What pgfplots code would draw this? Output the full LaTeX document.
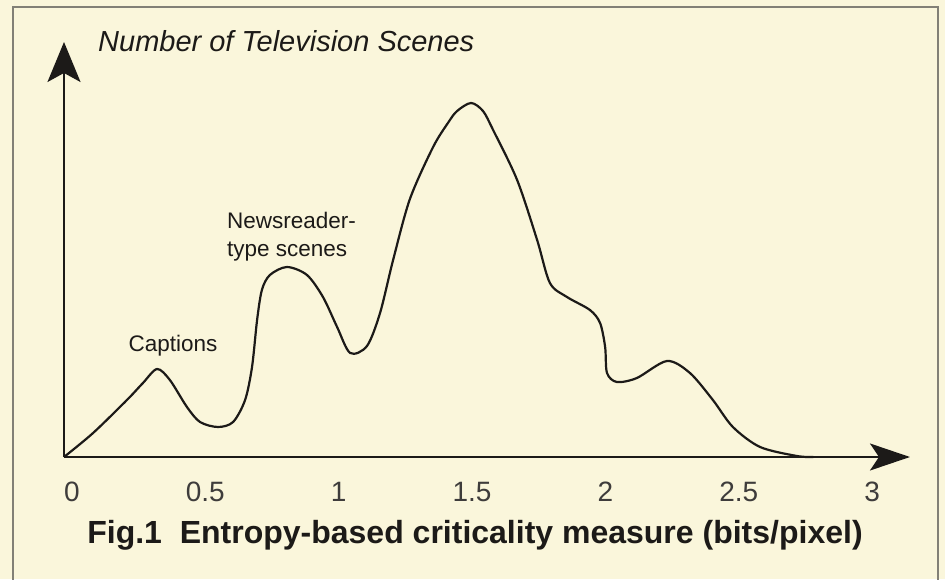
\documentclass[border=0pt]{standalone}
\usepackage{pgfplots}
\pgfplotsset{compat=1.18}
\usepackage{fontspec}
\setmainfont{Liberation Sans}
\usetikzlibrary{arrows.meta}
\definecolor{cream}{RGB}{250,246,219}
\definecolor{ink}{RGB}{28,26,24}
\definecolor{framegray}{RGB}{130,128,118}
\begin{document}
\begin{tikzpicture}
\useasboundingbox (0,0) rectangle (945pt,579pt);
\fill[cream] (0,0) rectangle (945pt,579pt);
\draw[framegray, line width=1.3pt] (13pt,-2pt) -- (13pt,572pt) -- (938pt,572pt) -- (938pt,-2pt);
\begin{axis}[
  at={(64pt,122pt)}, anchor=south west,
  x=266.7pt, y=1pt,
  xmin=-0.030, xmax=3.142, ymin=0, ymax=415,
  enlargelimits=false, clip=false,
  axis lines=left,
  axis line style={line width=2pt, color=ink},
  every outer x axis line/.append style={-{Stealth[length=40pt,width=27pt,inset=9pt]}},
  every outer y axis line/.append style={-{Stealth[length=40pt,width=33pt,inset=9pt]}},
  ytick=\empty,
  xtick={0,0.5,1,1.5,2,2.5,3},
  xticklabels={0,0.5,1,1.5,2,2.5,3},
  major tick length=0pt,
  xticklabel style={inner sep=0pt, anchor=north, yshift=-25pt, font=\fontsize{28pt}{32pt}\selectfont, text=ink!85},
]
\addplot[smooth, line width=2.2pt, color=ink] table {
x y
-0.030 0
0.079 24
0.206 57
0.266 74
0.319 88
0.367 77
0.431 50
0.480 35
0.547 30
0.604 35
0.649 57
0.675 90
0.694 137
0.712 167
0.742 182
0.806 190
0.881 182
0.941 160
0.994 130
1.043 104
1.106 111
1.155 144
1.204 197
1.267 258
1.354 310
1.412 335
1.444 346
1.496 354
1.541 346
1.579 327
1.669 277
1.744 217
1.792 174
1.856 160
1.942 147
1.980 134
1.999 110
2.006 84
2.043 75
2.118 79
2.231 96
2.317 84
2.403 57
2.478 30
2.580 10
2.718 1
2.78 0
};
\node[font=\fontsize{22.5pt}{27pt}\selectfont, text=ink, inner sep=0pt] at (axis cs:0.379,111) {Captions};
\node[font=\fontsize{22.5pt}{28pt}\selectfont, text=ink, inner sep=0pt, anchor=west, align=left] at (axis cs:0.581,220) {Newsreader-\\type scenes};
\end{axis}
\node[anchor=base west, inner sep=0pt, font=\fontsize{29pt}{34pt}\selectfont\itshape, text=ink] at (98pt,527pt) {Number of Television Scenes};
\node[anchor=base, inner sep=0pt, font=\fontsize{32pt}{38pt}\selectfont\bfseries, text=ink] at (475pt,36pt) {Fig.1\ \ Entropy-based criticality measure (bits/pixel)};
\end{tikzpicture}
\end{document}
